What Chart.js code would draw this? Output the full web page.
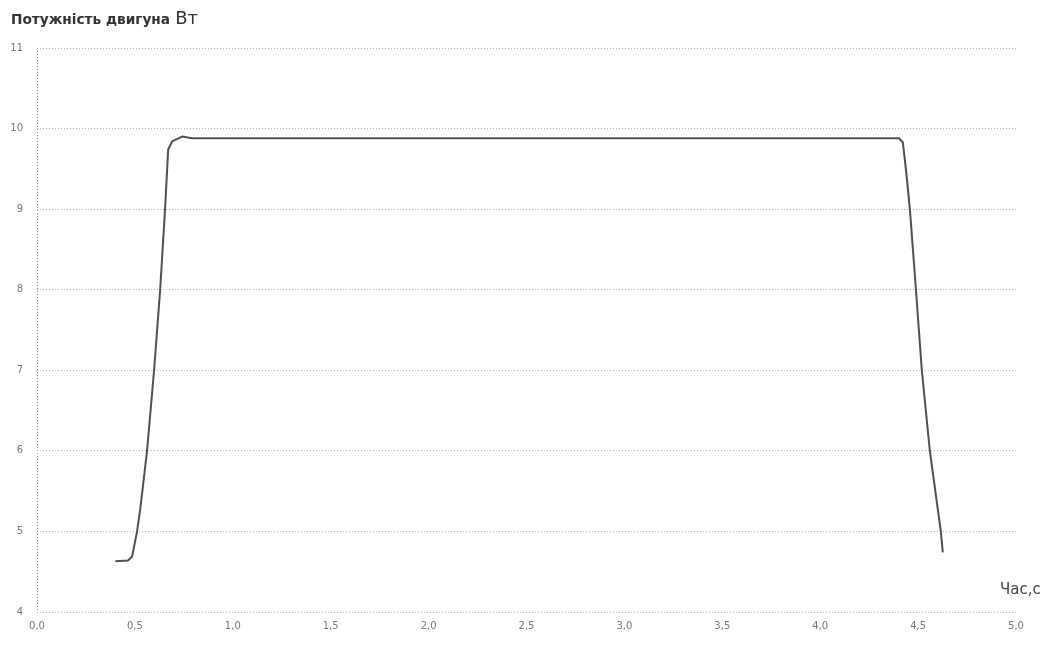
<!DOCTYPE html>
<html>
<head>
<meta charset="utf-8">
<script src="https://cdn.jsdelivr.net/npm/chart.js@4.4.0/dist/chart.umd.min.js"></script>
<style>
  html, body { margin: 0; padding: 0; background: #fff; }
  #wrap { position: relative; width: 1047px; height: 648px; }
  #title { position: absolute; left: 11px; top: 7px; font-family: "DejaVu Sans", sans-serif; color: #333; white-space: nowrap; }
  #title b { font-size: 13.7px; }
  #title span { font-size: 18px; }
  #xname { position: absolute; left: 1000px; top: 580px; font-family: "DejaVu Sans", sans-serif; font-size: 15px; color: #444; }
</style>
</head>
<body>
<div id="wrap">
  <canvas id="power" width="1047" height="648"></canvas>
  <div id="title"><b>Потужність двигуна</b> <span>Вт</span></div>
  <div id="xname">Час,с</div>
</div>
<script>
// time, s
var timeValues = [0.40, 0.465, 0.486, 0.511, 0.527, 0.562, 0.598, 0.629, 0.654, 0.670, 0.690, 0.741, 0.792,
  1.0, 1.5, 2.0, 2.5, 3.0, 3.5, 4.0, 4.402,
  4.422, 4.438, 4.458, 4.489, 4.519, 4.560, 4.616, 4.626];
// motor power, W
var powerValues = [4.63, 4.64, 4.69, 5.0, 5.27, 6.0, 7.0, 8.0, 9.0, 9.74, 9.84, 9.90, 9.88,
  9.88, 9.88, 9.88, 9.88, 9.88, 9.88, 9.88, 9.88,
  9.83, 9.49, 9.0, 8.0, 7.0, 6.0, 5.0, 4.74];

var xMin = 0, xMax = 5, xStep = 0.5;
var yMin = 4, yMax = 11, yStep = 1;

var points = [];
for (var i = 0; i < timeValues.length; i++) {
  points.push({x: timeValues[i], y: powerValues[i]});
}

var powerChart = new Chart(document.getElementById('power'), {
  type: 'line',
  data: {
    datasets: [{
      data: points,
      borderColor: '#505050',
      borderWidth: 2,
      pointRadius: 0,
      fill: false,
      tension: 0
    }]
  },
  options: {
    responsive: false,
    animation: false,
    layout: { padding: { top: 48, right: 31, left: 0, bottom: 0 } },
    plugins: { legend: { display: false }, tooltip: { enabled: false } },
    scales: {
      x: {
        type: 'linear',
        min: xMin, max: xMax,
        ticks: {
          stepSize: xStep,
          color: '#777',
          font: { family: 'DejaVu Sans', size: 10 },
          padding: 8,
          maxRotation: 0,
          callback: function(v){ return v.toFixed(1).replace('.', ','); }
        },
        // only the line at 0 is drawn: it stands for the dotted y axis
        grid: {
          drawTicks: false,
          color: function(ctx){ return ctx.tick && ctx.tick.value === 0 ? '#8a8a8a' : 'rgba(0,0,0,0)'; }
        },
        border: { display: false, dash: [1, 2] },
        afterFit: function(scale){ scale.height = 36; }
      },
      y: {
        min: yMin, max: yMax,
        ticks: {
          stepSize: yStep,
          color: '#777',
          font: { family: 'DejaVu Sans', size: 10 },
          padding: 14
        },
        grid: { color: '#b0b0b0', drawTicks: false },
        border: { display: false, dash: [1, 2] },
        afterFit: function(scale){ scale.width = 37; }
      }
    }
  }
});
</script>
</body>
</html>
